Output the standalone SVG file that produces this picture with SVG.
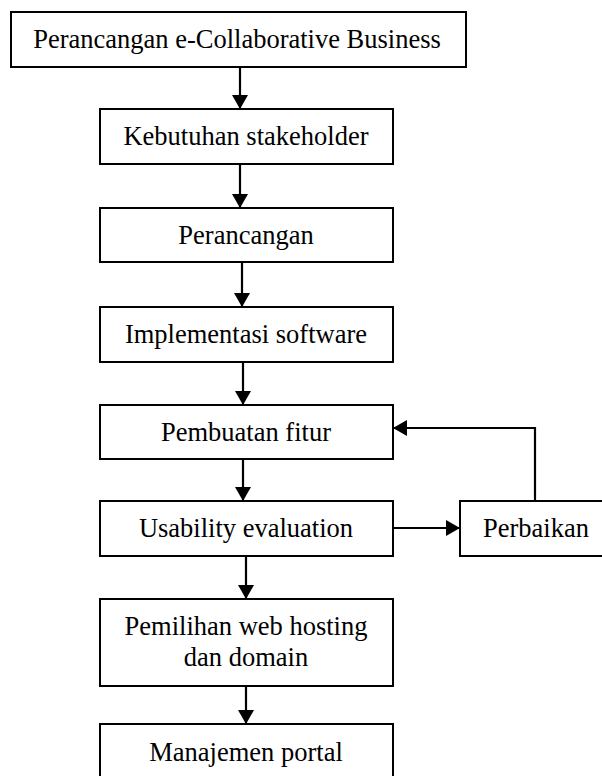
<svg xmlns="http://www.w3.org/2000/svg" width="602" height="776" viewBox="0 0 602 776">
<defs>
<style>
.box{fill:#fff;stroke:#000;stroke-width:2}
.t{font-family:"Liberation Serif","Times New Roman",serif;font-size:26.5px;fill:#000;text-anchor:middle}
.c{fill:none;stroke:#000;stroke-width:2.2}
</style>
<marker id="ah" markerUnits="userSpaceOnUse" markerWidth="18" markerHeight="18" viewBox="0 0 18 18" refX="14" refY="9" orient="auto">
<path d="M0,1 L14,9 L0,17 Z" fill="#000"/>
</marker>
</defs>
<rect width="602" height="776" fill="#fff"/>
<g id="n1"><rect class="box" x="11" y="12" width="455" height="55"/><text class="t" x="237" y="48">Perancangan e-Collaborative  Business</text></g>
<g id="n2"><rect class="box" x="100" y="109" width="293" height="55"/><text class="t" x="246" y="145">Kebutuhan stakeholder</text></g>
<g id="n3"><rect class="box" x="100" y="208" width="293" height="54"/><text class="t" x="246" y="244">Perancangan</text></g>
<g id="n4"><rect class="box" x="100" y="307" width="293" height="55"/><text class="t" x="246" y="343">Implementasi software</text></g>
<g id="n5"><rect class="box" x="100" y="405" width="293" height="54"/><text class="t" x="246" y="441">Pembuatan fitur</text></g>
<g id="n6"><rect class="box" x="100" y="501" width="293" height="55"/><text class="t" x="246" y="537">Usability evaluation</text></g>
<g id="n7"><rect class="box" x="460" y="501" width="152" height="55"/><text class="t" x="536" y="537">Perbaikan</text></g>
<g id="n8"><rect class="box" x="100" y="599" width="293" height="87"/><text class="t" x="246" y="635">Pemilihan web hosting</text><text class="t" x="246" y="666">dan domain</text></g>
<g id="n9"><rect class="box" x="100" y="724" width="293" height="56"/><text class="t" x="246" y="761">Manajemen portal</text></g>
<g id="connectors">
<line class="c" x1="240" y1="67" x2="240" y2="109" marker-end="url(#ah)"/>
<line class="c" x1="240" y1="164" x2="240" y2="208" marker-end="url(#ah)"/>
<line class="c" x1="242" y1="262" x2="242" y2="307" marker-end="url(#ah)"/>
<line class="c" x1="243" y1="362" x2="243" y2="405" marker-end="url(#ah)"/>
<line class="c" x1="243" y1="459" x2="243" y2="501" marker-end="url(#ah)"/>
<line class="c" x1="246" y1="556" x2="246" y2="599" marker-end="url(#ah)"/>
<line class="c" x1="246" y1="686" x2="246" y2="724" marker-end="url(#ah)"/>
<line class="c" x1="393" y1="528" x2="460" y2="528" marker-end="url(#ah)"/>
<polyline class="c" points="535,501 535,428 393,428" marker-end="url(#ah)"/>
</g>
</svg>
